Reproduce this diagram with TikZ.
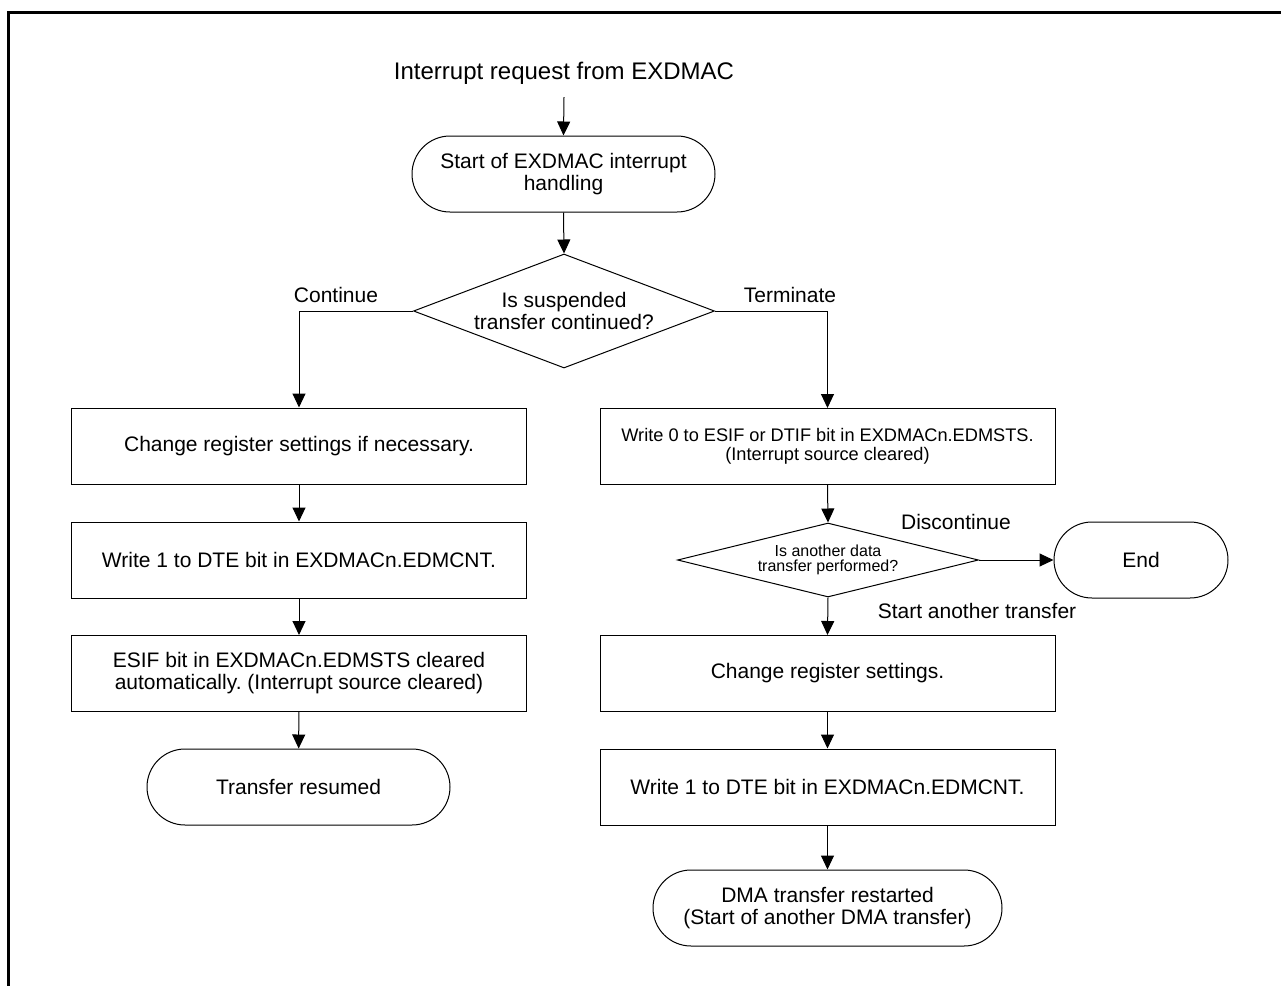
\documentclass[tikz,border=0pt]{standalone}
\usepackage{fontspec}
\setmainfont{Liberation Sans}
\usetikzlibrary{shapes.geometric,arrows.meta}
\frenchspacing
\begin{document}
\begin{tikzpicture}[x=0.5pt,y=-0.5pt,
  every node/.style={font=\fontsize{10.5}{11}\selectfont, align=center, inner sep=0pt, text=black},
  proc/.style={draw, line width=0.5pt, minimum width=227.5pt, minimum height=38pt},
  term/.style={draw, line width=0.5pt, rounded corners=19pt, minimum height=38pt},
  dec/.style={draw, diamond, line width=0.5pt},
  arr/.style={line width=0.5pt, -{Triangle[length=7pt,width=6.5pt]}},
  frame/.style={line width=1.5pt}
]
\useasboundingbox (0,0) rectangle (1281,986);
\draw[frame] (8,986) -- (8,12) -- (1281,12);

% title and top part
\node[inner ysep=6.3pt, font=\fontsize{12}{13}\selectfont] (title) at (564,73) {Interrupt request from EXDMAC};
\node[term, minimum width=151.5pt] (t1) at (563.5,174) {Start of EXDMAC interrupt\\handling};
\node[dec, minimum width=150.5pt, minimum height=57pt,
  label={[font=\fontsize{10.5}{11}\selectfont]center:{Is suspended\\transfer continued?}}] (d1) at (564,311) {};

% left column
\node[proc] (lb1) at (299,446) {Change register settings if necessary.};
\node[proc] (lb2) at (299,560) {Write 1 to DTE bit in EXDMACn.EDMCNT.};
\node[proc] (lb3) at (299,673.5) {ESIF bit in EXDMACn.EDMSTS cleared\\automatically. (Interrupt source cleared)};
\node[term, minimum width=151.5pt] (lt) at (298.5,787) {Transfer resumed};

% right column
\node[proc, font=\fontsize{9.1}{9.6}\selectfont] (rb1) at (827.5,446.5) {Write 0 to ESIF or DTIF bit in EXDMACn.EDMSTS.\\(Interrupt source cleared)};
\node[dec, minimum width=150.5pt, minimum height=37pt,
  label={[font=\fontsize{8}{7.8}\selectfont]center:{Is another data\\transfer performed?}}] (d2) at (828,560) {};
\node[term, minimum width=87pt] (end) at (1141,560) {End};
\node[proc] (rb2) at (827.5,673.5) {Change register settings.};
\node[proc] (rb3) at (827.5,787) {Write 1 to DTE bit in EXDMACn.EDMCNT.};
\node[term, minimum width=174.5pt] (rt) at (827.5,908) {DMA transfer restarted\\(Start of another DMA transfer)};

% branch labels
\node (lcont) at (336,295) {Continue};
\node (lterm) at (790,295) {Terminate};
\node (ldisc) at (956,522) {Discontinue};
\node (lstart) at (977,611) {Start another transfer};

% connectors
\draw[arr] (title.south) -- (t1.north);
\draw[arr] (t1.south) -- (d1.north);
\draw[arr] (d1.west) -| (lb1.north);
\draw[arr] (d1.east) -| (rb1.north);
\draw[arr] (lb1) -- (lb2);
\draw[arr] (lb2) -- (lb3);
\draw[arr] (lb3) -- (lt);
\draw[arr] (rb1.south) -- (d2.north);
\draw[arr] (d2.east) -- (end.west);
\draw[arr] (d2.south) -- (rb2.north);
\draw[arr] (rb2) -- (rb3);
\draw[arr] (rb3) -- (rt);
\end{tikzpicture}
\end{document}
